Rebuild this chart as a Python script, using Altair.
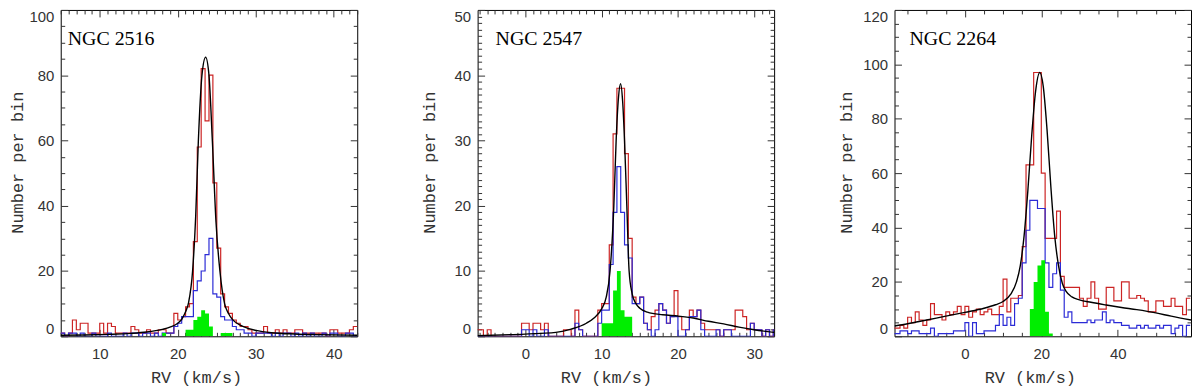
import altair as alt
import pandas as pd

cluster_names = ["NGC 2516", "NGC 2547", "NGC 2264"]

# ---------------- Panel 1: NGC 2516 (0.5 km/s bins from 5.0) ----------------
p1_bin_start = 5.0
p1_bin_width = 0.5
p1_red = [1, 0, 1, 5, 2, 4, 4, 1, 1, 1,
          4, 1, 4, 3, 1, 1, 1, 1, 3, 2,
          1, 1, 2, 1, 1, 2, 2, 1, 1, 7,
          5, 6, 9, 10, 29, 58, 82, 66, 80, 47,
          27, 13, 9, 7, 5, 4, 3, 3, 2, 1,
          1, 1, 3, 1, 1, 2, 1, 2, 1, 1,
          2, 2, 1, 1, 1, 1, 1, 1, 0, 2,
          2, 1, 1, 1, 2, 3]
p1_blue = [1, 0, 1, 1, 0, 1, 0, 0, 1, 0,
           0, 0, 1, 0, 0, 0, 1, 0, 1, 1,
           0, 1, 1, 0, 1, 0, 1, 1, 1, 3,
           4, 6, 6, 6, 14, 17, 20, 25, 30, 13,
           12, 6, 5, 5, 3, 2, 2, 1, 1, 0,
           1, 1, 1, 1, 0, 1, 0, 1, 1, 0,
           1, 0, 1, 0, 1, 0, 0, 1, 0, 1,
           1, 0, 0, 1, 1, 0]
p1_green_start = 18.0
p1_green = [1, 0, 0, 0, 0, 0, 2, 2, 5, 6, 8, 7, 3, 0, 0, 1, 1, 1]
p1_model_rv = [5, 8, 11, 14, 16, 18, 19, 20, 20.5, 21, 21.4, 21.9, 22.3, 22.64, 23.1,
               23.57, 24.0, 24.43, 24.9, 25.4, 26.0, 26.5, 27, 28, 29, 30, 32, 35, 38, 43]
p1_model_n = [0.3, 0.4, 0.6, 0.9, 1.3, 2.1, 2.8, 4.0, 5.2, 7.5, 10.5, 20, 37, 60, 80,
              85.5, 80, 60, 35, 20, 10, 7, 5.2, 3.4, 2.4, 1.8, 1.1, 0.7, 0.5, 0.3]

# ---------------- Panel 2: NGC 2547 (0.5 km/s bins from -6.5) ----------------
p2_bin_start = -6.5
p2_bin_width = 0.5
p2_red = [1, 1, 0, 1, 0, 0, 0, 0, 0, 0,
          0, 0, 2, 2, 1, 2, 2, 1, 2, 0,
          0, 0, 0, 1, 1, 0, 4, 1, 0, 0,
          0, 0, 4, 5, 5, 14, 31, 38, 38, 28,
          15, 6, 5, 6, 2, 1, 3, 4, 5, 4,
          2, 3, 7, 3, 1, 1, 4, 3, 4, 2,
          1, 1, 1, 1, 0, 1, 1, 1, 4, 4,
          3, 1, 2, 1, 1, 0, 1, 0, 1]
p2_blue = [0, 0, 0, 0, 0, 0, 0, 0, 0, 0,
           0, 0, 1, 1, 0, 1, 0, 0, 1, 0,
           0, 0, 0, 0, 0, 0, 2, 1, 0, 0,
           0, 0, 2, 4, 4, 11, 19, 26, 19, 14,
           12, 5, 5, 6, 2, 1, 0, 1, 5, 4,
           2, 3, 3, 0, 0, 1, 3, 3, 4, 1,
           0, 0, 0, 1, 0, 1, 1, 0, 0, 0,
           0, 0, 2, 1, 1, 0, 1, 0, 1]
p2_green_start = 10.0
p2_green = [2, 2, 2, 7, 10, 4, 3, 3]
p2_model_rv = [-6.26, -2, 2, 4, 6, 8, 9, 10, 10.6, 11.1, 11.6, 11.9, 12.2, 12.48, 12.75,
               13.0, 13.3, 13.6, 14.0, 14.5, 15.0, 16, 18, 20, 22, 24, 26, 28, 30, 32.61]
p2_model_n = [0.1, 0.25, 0.45, 0.6, 1.1, 2.0, 2.8, 4.2, 6, 10, 20, 30, 36.5, 38.7, 36,
              30, 20, 10, 6.5, 5, 4.3, 3.7, 3.3, 3.1, 2.8, 2.3, 1.9, 1.4, 1.0, 0.6]

# ---------------- Panel 3: NGC 2264 (1 km/s bins from -19) ----------------
p3_bin_start = -19.0
p3_bin_width = 1.0
p3_red = [3, 3, 4, 3, 7, 5, 9, 6, 4, 6,
          12, 8, 8, 6, 9, 8, 9, 11, 8, 11,
          7, 9, 10, 8, 9, 10, 8, 8, 11, 21,
          9, 14, 14, 15, 33, 63, 63, 97, 97, 60,
          36, 36, 36, 46, 22, 18, 18, 18, 18, 14,
          11, 14, 20, 14, 10, 10, 18, 18, 13, 13,
          20, 20, 14, 14, 15, 14, 13, 9, 9, 13,
          13, 11, 11, 14, 11, 11, 8, 14]
p3_blue = [1, 1, 2, 2, 1, 2, 2, 1, 1, 1,
           3, 0, 1, 1, 1, 1, 2, 2, 2, 5,
           0, 5, 1, 1, 2, 2, 2, 4, 8, 4,
           7, 4, 12, 14, 27, 39, 50, 50, 47, 47,
           27, 18, 23, 27, 17, 7, 9, 5, 5, 5,
           5, 6, 5, 6, 6, 9, 5, 6, 5, 5,
           4, 4, 3, 3, 4, 3, 4, 3, 3, 4,
           3, 4, 4, 1, 3, 4, 0, 4]
p3_green_start = 17.0
p3_green = [10, 20, 26, 28, 9, 1]
p3_model_rv = [-18.44, -15, -10, -5, 0, 5, 8, 10, 12, 13.5, 14.5, 15.5, 16.5, 17.5, 18.5,
               19.6, 20.5, 21.5, 22.5, 23.5, 24.5, 25.5, 26.5, 28, 30, 33, 37, 41, 45, 50, 54, 59.2]
p3_model_n = [3.8, 4.6, 6.0, 7.4, 8.8, 10.3, 11.6, 12.8, 15.5, 20, 26, 37, 54, 74, 90,
              97, 92, 76, 55, 37, 26, 19.5, 16.5, 14.5, 13.4, 12.5, 11.5, 10.6, 9.8, 8.6, 7.4, 6.0]

# axis ranges and tick spacing (minor, major)
x_domains = [[5.0, 43.0], [-6.26, 32.61], [-18.44, 59.2]]
y_max = [100, 50, 120]
x_ticks = [(1, 10), (1, 10), (5, 20)]
y_ticks = [(5, 20), (1, 10), (5, 20)]

RED = "#cc2424"
BLUE = "#2b2bd6"
GREEN = "#00ee00"
INK = "#333333"


def step_frame(start, width, counts):
    edges = [start + width * i for i in range(len(counts) + 1)]
    return pd.DataFrame({"rv": edges, "n": list(counts) + [counts[-1]]})


def tick_values(lo, hi, minor):
    import math
    a = math.ceil(lo / minor) * minor
    vals = []
    v = a
    while v <= hi + 1e-9:
        vals.append(v)
        v += minor
    return vals


def panel(i, red, blue, green, model, text_dx, xtitle_x, ytitle_x):
    xs = alt.Scale(domain=x_domains[i], nice=False, zero=False)
    ys = alt.Scale(domain=[0, y_max[i]], nice=False, zero=True)
    xmin, xmaj = x_ticks[i]
    ymin, ymaj = y_ticks[i]
    xv = tick_values(x_domains[i][0], x_domains[i][1], xmin)
    yv = tick_values(0, y_max[i], ymin)

    def tsize(major):
        return {"expr": f"datum.value % {major} === 0 ? -7 : -4"}

    ax_bottom = alt.Axis(orient="bottom", values=xv, tickSize=tsize(xmaj), format="d",
                         labelExpr=f"datum.value % {xmaj} === 0 ? datum.label : ''",
                         labelPadding=17, labelFlush=False, labelOverlap=False,
                         title="RV (km/s)", titleX=xtitle_x, titleY=41,
                         titleAlign="center", titleBaseline="middle")
    ax_left = alt.Axis(orient="left", values=yv, tickSize=tsize(ymaj), format="d",
                       labelExpr=f"datum.value % {ymaj} === 0 ? datum.label : ''",
                       labelPadding=14, labelFlush=True, labelOverlap=False,
                       title="Number per bin", titleX=ytitle_x, titleY=153, titleAngle=270,
                       titleAlign="center", titleBaseline="middle")
    ax_top = alt.Axis(orient="top", values=xv, tickSize=tsize(xmaj), labels=False, title=None)
    ax_right = alt.Axis(orient="right", values=yv, tickSize=tsize(ymaj), labels=False, title=None)

    red_l = alt.Chart(red).mark_line(interpolate="step-after", color=RED, strokeWidth=1.2, clip=True).encode(
        x=alt.X("rv:Q", scale=xs, axis=ax_bottom), y=alt.Y("n:Q", scale=ys, axis=ax_left))
    blue_l = alt.Chart(blue).mark_line(interpolate="step-after", color=BLUE, strokeWidth=1.2, clip=True).encode(
        x=alt.X("rv:Q", scale=xs, axis=ax_top), y=alt.Y("n:Q", scale=ys, axis=ax_right))
    green_a = alt.Chart(green).mark_area(interpolate="step-after", color=GREEN, opacity=1, clip=True).encode(
        x=alt.X("rv:Q", scale=xs, axis=None), y=alt.Y("n:Q", scale=ys, axis=None))
    model_l = alt.Chart(model).mark_line(interpolate="monotone", color="black", strokeWidth=1.4, clip=True).encode(
        x=alt.X("rv:Q", scale=xs, axis=None), y=alt.Y("n:Q", scale=ys, axis=None))
    label = alt.Chart(pd.DataFrame({"name": [cluster_names[i]]})).mark_text(
        align="left", baseline="alphabetic", font="Liberation Serif", fontSize=20, color="black"
    ).encode(x=alt.value(text_dx), y=alt.value(35), text="name:N")

    return alt.layer(red_l, blue_l, green_a, model_l, label).resolve_axis(
        x="independent", y="independent").properties(width=298, height=328)


c1 = panel(0, step_frame(p1_bin_start, p1_bin_width, p1_red), step_frame(p1_bin_start, p1_bin_width, p1_blue),
           step_frame(p1_green_start, p1_bin_width, p1_green),
           pd.DataFrame({"rv": p1_model_rv, "n": p1_model_n}), 7, 136, -43)
c2 = panel(1, step_frame(p2_bin_start, p2_bin_width, p2_red), step_frame(p2_bin_start, p2_bin_width, p2_blue),
           step_frame(p2_green_start, p2_bin_width, p2_green),
           pd.DataFrame({"rv": p2_model_rv, "n": p2_model_n}), 18, 129, -48)
c3 = panel(2, step_frame(p3_bin_start, p3_bin_width, p3_red), step_frame(p3_bin_start, p3_bin_width, p3_blue),
           step_frame(p3_green_start, p3_bin_width, p3_green),
           pd.DataFrame({"rv": p3_model_rv, "n": p3_model_n}), 15, 136, -48)

chart = alt.hconcat(c1, c2, c3, spacing=121, bounds="flush").properties(
    padding={"left": 0, "top": 0, "right": 0, "bottom": 0}
).configure_view(stroke="black", strokeWidth=1).configure_axis(
    domain=False, grid=False, tickColor=INK, tickWidth=1,
    labelFont="Liberation Sans", labelFontSize=15, labelColor=INK,
    titleFont="Liberation Mono", titleFontSize=17, titleFontWeight="normal", titleColor=INK
)

chart.save("out.html", embed_options={"renderer": "svg", "actions": False})
